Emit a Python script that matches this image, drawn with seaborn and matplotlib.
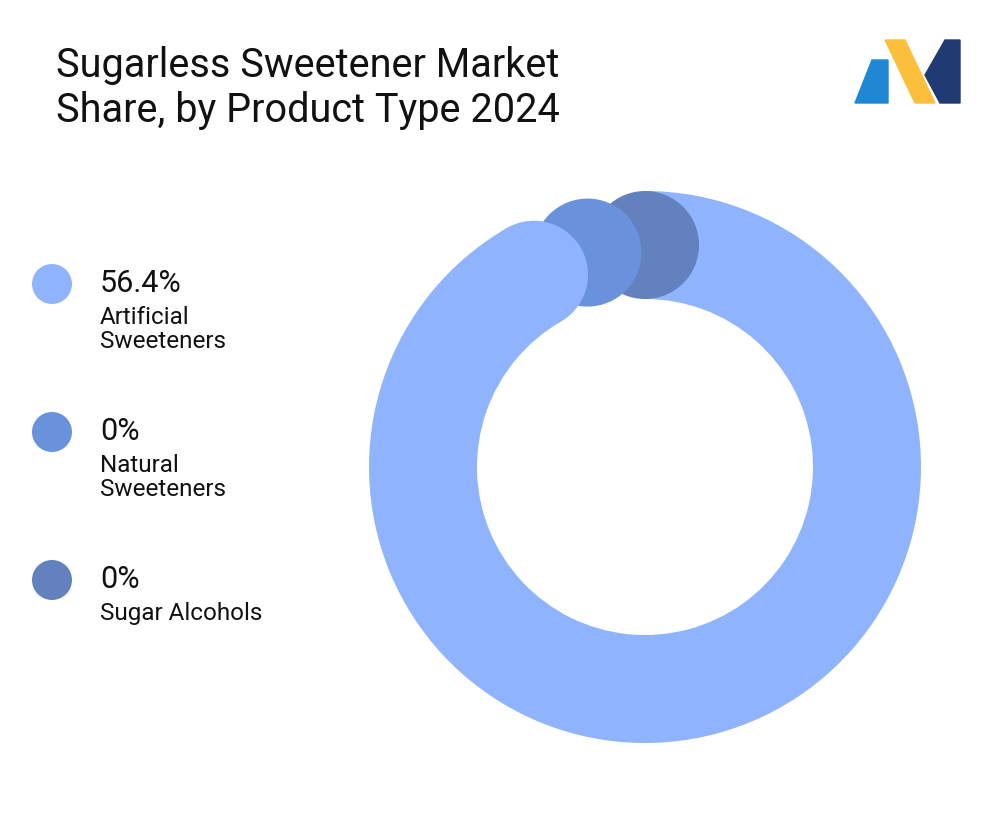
import numpy as np
import matplotlib
matplotlib.use("Agg")
import matplotlib.pyplot as plt
from matplotlib.patches import Wedge, Circle, Polygon
import seaborn as sns

sns.set_theme(style="white")
plt.rcParams["font.family"] = "Roboto"

categories = ["Artificial\nSweeteners", "Natural\nSweeteners", "Sugar Alcohols"]
shares = [56.4, 0, 0]
value_labels = ["56.4%", "0%", "0%"]
colors = ["#8fb4fd", "#6a91dc", "#6380bf"]

H = 840
fig = plt.figure(figsize=(10.08, 8.4), dpi=100)
ax = fig.add_axes([0, 0, 1, 1])
ax.set_xlim(0, 1008); ax.set_ylim(0, H); ax.axis("off")
Y = lambda y: H - y

ax.text(56, Y(88), "Sugarless Sweetener Market\nShare, by Product Type 2024", fontsize=28.5,
        va="center", ha="left", color="#111", linespacing=1.17)

# logo
P = lambda pts: [[x, Y(y)] for x, y in pts]
ax.add_patch(Polygon(P([[855, 103], [872, 60], [888, 60], [888, 103]]), color="#1e88d4"))
ax.add_patch(Polygon(P([[885, 40], [905, 40], [935, 103], [915, 103]]), color="#fbbf3b"))
ax.add_patch(Polygon(P([[925, 75], [945, 40], [960, 40], [960, 103], [940, 103]]), color="#1f3a73"))

# donut (compass angles, clockwise from top)
cx, cy, R, w = 645, Y(467), 276, 108
rc = R - w / 2
pad = 15
total = sum(shares)
n = len(shares)
avail = 360 - pad * (n - 1)

def pt(c):
    t = np.deg2rad(90 - c)
    return cx + rc * np.cos(t), cy + rc * np.sin(t)

ends = {i: -pad * (n - 1 - i) for i in range(n)}
ext0 = avail * shares[0] / total
c_end = ends[0]
c_start = c_end + ext0 - 360  # arc from c_start... body drawn from 0 to c_end+360
ax.add_patch(Wedge((cx, cy), R, 90 - (360 + c_end), 90, width=w, color=colors[0], lw=0))
for i in range(n - 1, 0, -1):
    x, y = pt(ends[i]); ax.add_patch(Circle((x, y), w / 2, color=colors[i], lw=0))
x, y = pt(c_end); ax.add_patch(Circle((x, y), w / 2, color=colors[0], lw=0))

for k, (cat, vl, col) in enumerate(zip(categories, value_labels, colors)):
    y = 284 + 148 * k
    ax.add_patch(Circle((52, Y(y)), 20, color=col, lw=0))
    ax.text(100, Y(y), vl, fontsize=22, va="center", ha="left", color="#111")
    ax.text(100, Y(y + 22), cat, fontsize=17.5, va="top", ha="left", color="#111", linespacing=1.05)

fig.savefig("out.png", dpi=100, facecolor="white")
